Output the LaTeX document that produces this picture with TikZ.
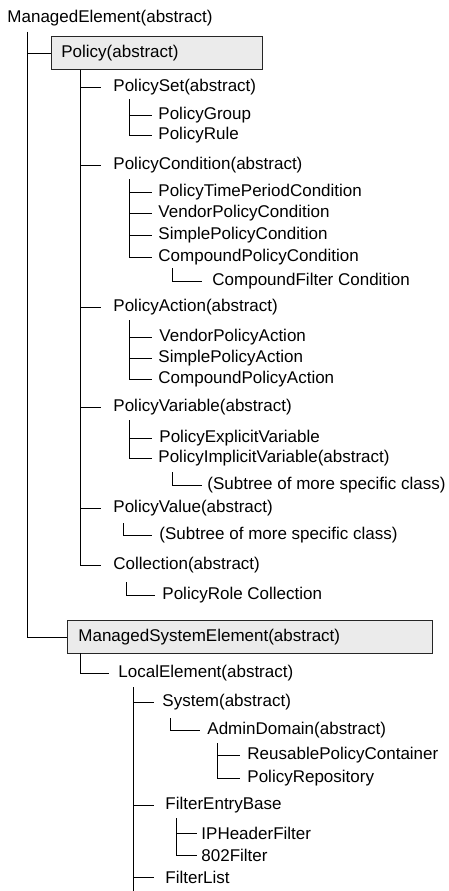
\documentclass[tikz,border=0pt]{standalone}
\usepackage{fontspec}
\setmainfont{Liberation Sans}
\usepackage{tikz}
\tikzset{
    cls/.style={anchor=west, inner ysep=1pt, inner xsep=6pt},
    grp/.style={cls, inner xsep=12pt},
    classbox/.style={draw=black!85, fill=black!8, line width=0.8pt, anchor=west,
        inner xsep=10pt, inner ysep=0pt, minimum height=33pt, align=left}
}

\begin{document}
\begin{tikzpicture}[x=1pt, y=-1pt, font=\fontsize{17}{20}\selectfont, line width=0.9pt]
    \useasboundingbox (0,0) rectangle (449,891);
    % Gốc và hai lớp đóng khung
    \node[cls, inner xsep=0pt] (me) at (7,18) {ManagedElement(abstract)};
    \node[classbox, text width=191pt] (policy) at (51,53) {Policy(abstract)};
    \node[classbox, text width=343pt, inner xsep=11pt] (mse) at (67,637) {ManagedSystemElement(abstract)};
    \coordinate (t-me) at (27,32);
    \draw (t-me) |- (policy.west);
    \draw (t-me) |- (mse.west);

    % Nhánh Policy
    \node[grp] (pset) at (101,87) {PolicySet(abstract)};
    \node[cls] (pgroup) at (152,115) {PolicyGroup};
    \node[cls] (prule) at (152,135) {PolicyRule};
    \node[grp] (pcond) at (101,165) {PolicyCondition(abstract)};
    \node[cls] (ptime) at (152,192) {PolicyTimePeriodCondition};
    \node[cls] (vcond) at (152,213) {VendorPolicyCondition};
    \node[cls] (scond) at (152,235) {SimplePolicyCondition};
    \node[cls] (ccond) at (152,257) {CompoundPolicyCondition};
    \node[cls, inner xsep=10pt] (cfilt) at (202,281) {CompoundFilter Condition};
    \node[grp] (pact) at (101,307) {PolicyAction(abstract)};
    \node[cls, inner xsep=7pt] (vact) at (152,337) {VendorPolicyAction};
    \node[cls] (sact) at (152,358) {SimplePolicyAction};
    \node[cls] (cact) at (152,379) {CompoundPolicyAction};
    \node[grp] (pvar) at (101,407) {PolicyVariable(abstract)};
    \node[cls, inner xsep=7pt] (pexp) at (152,438) {PolicyExplicitVariable};
    \node[cls] (pimp) at (152,458) {PolicyImplicitVariable(abstract)};
    \node[cls, inner xsep=5pt] (sub1) at (202,485) {(Subtree of more specific class)};
    \node[grp] (pval) at (101,508) {PolicyValue(abstract)};
    \node[cls, inner xsep=7pt] (sub2) at (152,535) {(Subtree of more specific class)};
    \node[grp] (coll) at (101,565) {Collection(abstract)};
    \node[cls, inner xsep=7pt] (prcoll) at (155,595) {PolicyRole Collection};

    \coordinate (t-policy) at (80,70);
    \foreach \c in {pset,pcond,pact,pvar,pval,coll}
        \draw (t-policy) |- (\c.west);
    \coordinate (t-pset) at (129,99);
    \foreach \c in {pgroup,prule}
        \draw (t-pset) |- (\c.west);
    \coordinate (t-pcond) at (129,179);
    \foreach \c in {ptime,vcond,scond,ccond}
        \draw (t-pcond) |- (\c.west);
    \coordinate (t-ccond) at (172,268);
    \draw (t-ccond) |- (cfilt.west);
    \coordinate (t-pact) at (129,320);
    \foreach \c in {vact,sact,cact}
        \draw (t-pact) |- (\c.west);
    \coordinate (t-pvar) at (129,420);
    \foreach \c in {pexp,pimp}
        \draw (t-pvar) |- (\c.west);
    \coordinate (t-pimp) at (172,472);
    \draw (t-pimp) |- (sub1.west);
    \coordinate (t-pval) at (123,523);
    \draw (t-pval) |- (sub2.west);
    \coordinate (t-coll) at (126,582);
    \draw (t-coll) |- (prcoll.west);

    % Nhánh ManagedSystemElement
    \node[cls, inner xsep=9pt] (local) at (109,673) {LocalElement(abstract)};
    \node[cls, inner xsep=8pt] (sys) at (154,702) {System(abstract)};
    \node[cls, inner xsep=7pt] (admin) at (200,730) {AdminDomain(abstract)};
    \node[cls, inner xsep=7pt] (reuse) at (240,755) {ReusablePolicyContainer};
    \node[cls, inner xsep=7pt] (prepo) at (240,778) {PolicyRepository};
    \node[cls, inner xsep=11pt] (feb) at (154,805) {FilterEntryBase};
    \node[cls, inner xsep=4pt] (iph) at (197,833) {IPHeaderFilter};
    \node[cls, inner xsep=4pt] (f802) at (197,855) {802Filter};
    \node[cls, inner xsep=11pt] (flist) at (154,877) {FilterList};

    \coordinate (t-mse) at (80,653);
    \draw (t-mse) |- (local.west);
    \coordinate (t-local) at (133,687);
    \coordinate (e-local) at (133,891);
    \draw (t-local) -- (e-local);
    \foreach \c in {sys,feb,flist}
        \draw (t-local) |- (\c.west);
    \coordinate (t-sys) at (170,718);
    \draw (t-sys) |- (admin.west);
    \coordinate (t-admin) at (217,743);
    \foreach \c in {reuse,prepo}
        \draw (t-admin) |- (\c.west);
    \coordinate (t-feb) at (176,818);
    \foreach \c in {iph,f802}
        \draw (t-feb) |- (\c.west);
\end{tikzpicture}
\end{document}
